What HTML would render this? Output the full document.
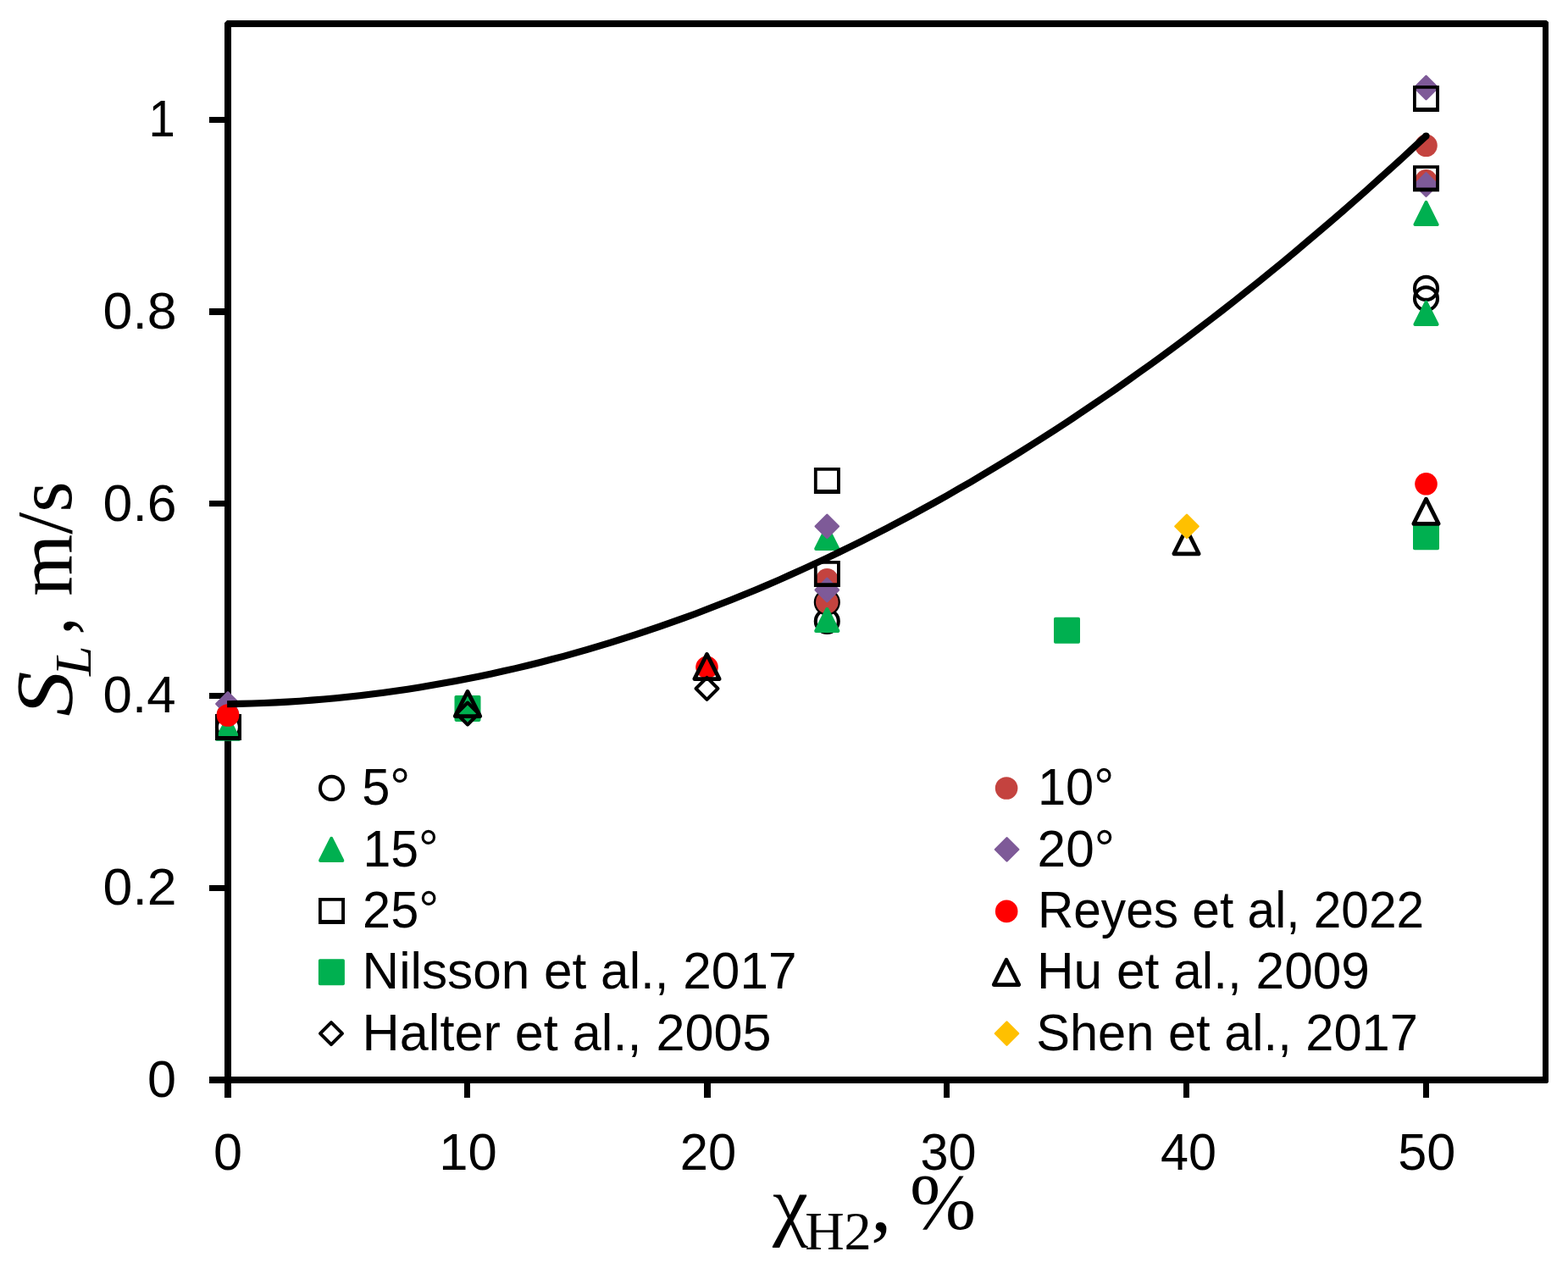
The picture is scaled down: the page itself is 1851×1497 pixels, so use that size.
<!DOCTYPE html>
<html lang="en">
<head>
<meta charset="utf-8">
<title>Laminar flame speed vs hydrogen fraction</title>
<style>
html,body{margin:0;padding:0;background:#fff;}
body{width:1851px;height:1497px;overflow:hidden;}
svg{display:block;}
.lab{font-family:"Liberation Sans",sans-serif;font-size:61.2px;fill:#000;}
.ttl{font-family:"Liberation Serif",serif;font-size:98px;fill:#000;}
</style>
</head>
<body>
<svg width="1851" height="1497" viewBox="0 0 1851 1497" role="img" aria-label="Laminar flame speed versus hydrogen fraction">
<rect x="0" y="0" width="1851" height="1497" fill="#fff"/>
<g id="frame" fill="#000">
<path fill-rule="evenodd" d="M268 24H1825.5L1828 26V1277.5L1826.5 1279H265V27ZM273 32V1271H1821V32Z"/>
<rect x="265" y="1279" width="8" height="17"/>
<rect x="247" y="1271" width="18" height="8"/>
</g>
<g id="ticks" fill="#000">
<rect x="247" y="138" width="19" height="7"/>
<rect x="247" y="364" width="19" height="8"/>
<rect x="247" y="591" width="19" height="7"/>
<rect x="247" y="818" width="19" height="7"/>
<rect x="247" y="1045" width="19" height="7"/>
<rect x="548" y="1278" width="7" height="18"/>
<rect x="831" y="1278" width="8" height="18"/>
<rect x="1114" y="1278" width="7" height="18"/>
<rect x="1397" y="1278" width="7" height="18"/>
<rect x="1680" y="1278" width="7" height="18"/>
</g>
<g id="ylabels" class="lab">
<text x="174.0" y="1295.0" textLength="34.0" lengthAdjust="spacingAndGlyphs">0</text>
<text x="121.6" y="1068.2" textLength="87.0" lengthAdjust="spacingAndGlyphs">0.2</text>
<text x="121.6" y="841.4" textLength="85.9" lengthAdjust="spacingAndGlyphs">0.4</text>
<text x="121.6" y="614.6" textLength="87.0" lengthAdjust="spacingAndGlyphs">0.6</text>
<text x="121.6" y="387.8" textLength="87.0" lengthAdjust="spacingAndGlyphs">0.8</text>
<text x="175.6" y="161.0" textLength="31.3" lengthAdjust="spacingAndGlyphs">1</text>
</g>
<g id="xlabels" class="lab">
<text x="252.0" y="1381.3" textLength="34.0" lengthAdjust="spacingAndGlyphs">0</text>
<text x="518.2" y="1381.3" textLength="68.5" lengthAdjust="spacingAndGlyphs">10</text>
<text x="802.8" y="1381.3" textLength="66.4" lengthAdjust="spacingAndGlyphs">20</text>
<text x="1086.5" y="1381.3" textLength="66.0" lengthAdjust="spacingAndGlyphs">30</text>
<text x="1370.0" y="1381.3" textLength="66.0" lengthAdjust="spacingAndGlyphs">40</text>
<text x="1650.2" y="1381.3" textLength="68.1" lengthAdjust="spacingAndGlyphs">50</text>
</g>
<g id="ytitle">
<text class="ttl" style="font-size:95.1px" font-style="italic" transform="translate(85.0 845.7) rotate(-90)" textLength="53.3" lengthAdjust="spacingAndGlyphs">S</text>
<text class="ttl" style="font-size:61.1px" font-style="italic" transform="translate(106.8 798.1) rotate(-90)" textLength="35.6" lengthAdjust="spacingAndGlyphs">L</text>
<text class="ttl" style="font-size:92.4px" transform="translate(85.2 749.4) rotate(-90)" textLength="21.0" lengthAdjust="spacingAndGlyphs">,</text>
<text class="ttl" style="font-size:93.0px" transform="translate(84.4 703.8) rotate(-90)" textLength="135.6" lengthAdjust="spacingAndGlyphs">m/s</text>
</g>
<g id="xtitle">
<text class="ttl" style="font-size:92.1px" x="912.1" y="1452.9" textLength="42.1" lengthAdjust="spacingAndGlyphs">χ</text>
<text class="ttl" style="font-size:64.3px" x="950.2" y="1475.1" textLength="78.6" lengthAdjust="spacingAndGlyphs">H2</text>
<text class="ttl" style="font-size:94.5px" x="1028.0" y="1453.0" textLength="24.6" lengthAdjust="spacingAndGlyphs">,</text>
<text class="ttl" style="font-size:92.6px" x="1074.1" y="1450.3" textLength="78.1" lengthAdjust="spacingAndGlyphs">%</text>
</g>
<g id="s5">
<circle cx="269.4" cy="858.4" r="13.5" fill="none" stroke="#000" stroke-width="4.1"/>
<circle cx="976.3" cy="711" r="13.5" fill="none" stroke="#000" stroke-width="4.1"/>
<circle cx="976.3" cy="733.4" r="13.5" fill="none" stroke="#000" stroke-width="4.1"/>
<circle cx="1683.5" cy="340.4" r="13.5" fill="none" stroke="#000" stroke-width="4.1"/>
<circle cx="1683.5" cy="352.6" r="13.5" fill="none" stroke="#000" stroke-width="4.1"/>
</g>
<g id="s10">
<circle cx="269" cy="843.5" r="13.3" fill="#c4433f"/>
<circle cx="976.3" cy="684.3" r="13.3" fill="#c4433f"/>
<circle cx="976.3" cy="711" r="13.3" fill="#c4433f"/>
<circle cx="1683.5" cy="171.8" r="13.3" fill="#c4433f"/>
<circle cx="1683.5" cy="213.3" r="13.3" fill="#c4433f"/>
</g>
<g id="s15">
<path d="M269 846.8L282.1 872.8L255.9 872.8Z" fill="#00b050" stroke="#00b050" stroke-width="4" stroke-linejoin="round"/>
<path d="M976.3 621.9L989.4 647.9L963.2 647.9Z" fill="#00b050" stroke="#00b050" stroke-width="4" stroke-linejoin="round"/>
<path d="M976.3 719L989.4 745L963.2 745Z" fill="#00b050" stroke="#00b050" stroke-width="4" stroke-linejoin="round"/>
<path d="M1683.5 238.9L1696.6 265.1L1670.4 265.1Z" fill="#00b050" stroke="#00b050" stroke-width="4" stroke-linejoin="round"/>
<path d="M1683.5 356.8L1696.6 382.9L1670.4 382.9Z" fill="#00b050" stroke="#00b050" stroke-width="4" stroke-linejoin="round"/>
</g>
<g id="s20">
<path d="M269 817.5L282.5 831L269 844.5L255.5 831Z" fill="#7e5a98" stroke="#7e5a98" stroke-width="2.6" stroke-linejoin="round"/>
<path d="M976.3 607.9L989.8 621.4L976.3 634.9L962.8 621.4Z" fill="#7e5a98" stroke="#7e5a98" stroke-width="2.6" stroke-linejoin="round"/>
<path d="M976.3 683L989.8 696.5L976.3 710L962.8 696.5Z" fill="#7e5a98" stroke="#7e5a98" stroke-width="2.6" stroke-linejoin="round"/>
<path d="M1683.5 90L1697 103.5L1683.5 117L1670 103.5Z" fill="#7e5a98" stroke="#7e5a98" stroke-width="2.6" stroke-linejoin="round"/>
<path d="M1683.5 204.5L1697 218L1683.5 231.5L1670 218Z" fill="#7e5a98" stroke="#7e5a98" stroke-width="2.6" stroke-linejoin="round"/>
</g>
<g id="s25">
<path fill-rule="evenodd" fill="#000" d="M254 842.9h31v31h-31zM257.8 846.6v22.4h23.3v-22.4z"/>
<path fill-rule="evenodd" fill="#000" d="M960.9 552h31v31h-31zM964.7 555.7v22.4h23.3v-22.4z"/>
<path fill-rule="evenodd" fill="#000" d="M960.9 662.1h31v31h-31zM964.7 665.8v22.4h23.3v-22.4z"/>
<path fill-rule="evenodd" fill="#000" d="M1668 101h31v31h-31zM1671.8 104.7v22.4h23.3v-22.4z"/>
<path fill-rule="evenodd" fill="#000" d="M1668 195.3h31v31h-31zM1671.8 199v22.4h23.3v-22.4z"/>
</g>
<g id="reyes">
<circle cx="269" cy="844.5" r="13.3" fill="#ff0000"/>
<circle cx="834.5" cy="787.8" r="13.3" fill="#ff0000"/>
<circle cx="1683.5" cy="571.3" r="13.3" fill="#ff0000"/>
</g>
<g id="nilsson">
<rect x="536.5" y="820.9" width="31" height="31" rx="1.8" fill="#00b050"/>
<rect x="1244" y="728.8" width="31" height="31" rx="1.8" fill="#00b050"/>
<rect x="1668" y="618.2" width="31" height="31" rx="1.8" fill="#00b050"/>
</g>
<g id="hu">
<path d="M552 816.4L566.8 845.6L537.2 845.6Z" fill="none" stroke="#000" stroke-width="4.7" stroke-linejoin="round"/>
<path d="M834.5 772.4L849.2 801.6L819.8 801.6Z" fill="none" stroke="#000" stroke-width="4.7" stroke-linejoin="round"/>
<path d="M1400.5 624.5L1415.2 653.8L1385.8 653.8Z" fill="none" stroke="#000" stroke-width="4.7" stroke-linejoin="round"/>
<path d="M1683.5 589.1L1698.2 618.4L1668.8 618.4Z" fill="none" stroke="#000" stroke-width="4.7" stroke-linejoin="round"/>
</g>
<g id="halter">
<path d="M552 829.5L565 842.5L552 855.5L539 842.5Z" fill="none" stroke="#000" stroke-width="4" stroke-linejoin="round"/>
<path d="M834.5 799.9L847.5 812.9L834.5 825.9L821.5 812.9Z" fill="none" stroke="#000" stroke-width="4" stroke-linejoin="round"/>
</g>
<g id="shen">
<path d="M1401 607.9L1414.5 621.4L1401 634.9L1387.5 621.4Z" fill="#ffc000" stroke="#ffc000" stroke-width="2.6" stroke-linejoin="round"/>
</g>
<g id="trend">
<path d="M268.1 831.2L283.1 830.9L297.3 830.5L311.4 830.0L325.6 829.4L339.7 828.6L353.9 827.7L368.0 826.6L382.2 825.5L396.3 824.2L410.4 822.8L424.6 821.2L438.7 819.5L452.9 817.7L467.0 815.7L481.2 813.7L495.3 811.5L509.5 809.1L523.6 806.6L537.8 804.0L551.9 801.3L566.0 798.5L580.2 795.5L594.3 792.3L608.5 789.1L622.6 785.7L636.8 782.2L650.9 778.5L665.1 774.8L679.2 770.9L693.3 766.8L707.5 762.7L721.6 758.4L735.8 753.9L749.9 749.4L764.1 744.7L778.2 739.9L792.4 734.9L806.5 729.9L820.7 724.7L834.8 719.3L848.9 713.8L863.1 708.2L877.2 702.5L891.4 696.7L905.5 690.7L919.7 684.6L933.8 678.3L948.0 671.9L962.1 665.4L976.2 658.8L990.4 652.0L1004.5 645.1L1018.7 638.1L1032.8 630.9L1047.0 623.6L1061.1 616.2L1075.3 608.6L1089.4 600.9L1103.6 593.1L1117.7 585.2L1131.8 577.1L1146.0 568.9L1160.1 560.6L1174.3 552.1L1188.4 543.5L1202.6 534.8L1216.7 525.9L1230.9 516.9L1245.0 507.8L1259.2 498.6L1273.3 489.2L1287.4 479.7L1301.6 470.0L1315.7 460.3L1329.9 450.4L1344.0 440.3L1358.2 430.2L1372.3 419.9L1386.5 409.5L1400.6 398.9L1414.7 388.2L1428.9 377.4L1443.0 366.5L1457.2 355.4L1471.3 344.2L1485.5 332.8L1499.6 321.4L1513.8 309.8L1527.9 298.1L1542.0 286.2L1556.2 274.2L1570.3 262.1L1584.5 249.9L1598.6 237.5L1612.8 225.0L1626.9 212.3L1641.1 199.6L1655.2 186.7L1669.4 173.6L1683.5 160.5" fill="none" stroke="#000" stroke-width="8.1" stroke-linecap="butt" stroke-linejoin="round"/>
<circle cx="1683.5" cy="160.5" r="4.05" fill="#000"/>
</g>
<g id="legend">
<circle cx="391.5" cy="930.4" r="13.5" fill="none" stroke="#000" stroke-width="4.1"/>
<path d="M391.2 989.9L404.3 1016L378.1 1016Z" fill="#00b050" stroke="#00b050" stroke-width="4" stroke-linejoin="round"/>
<path fill-rule="evenodd" fill="#000" d="M376 1060h31v31h-31zM379.8 1063.7v22.4h23.3v-22.4z"/>
<rect x="375.9" y="1132.2" width="31" height="31" rx="1.8" fill="#00b050"/>
<path d="M391 1207.1L404 1220.1L391 1233.1L378 1220.1Z" fill="none" stroke="#000" stroke-width="4" stroke-linejoin="round"/>
<circle cx="1188.1" cy="930.5" r="13.3" fill="#c4433f"/>
<path d="M1188.6 989.4L1202.1 1002.9L1188.6 1016.4L1175.1 1002.9Z" fill="#7e5a98" stroke="#7e5a98" stroke-width="2.6" stroke-linejoin="round"/>
<circle cx="1188.2" cy="1075.9" r="13.3" fill="#ff0000"/>
<path d="M1188 1133.2L1202.8 1162.6L1173.2 1162.6Z" fill="none" stroke="#000" stroke-width="4.7" stroke-linejoin="round"/>
<path d="M1188.5 1206.6L1202 1220.1L1188.5 1233.6L1175 1220.1Z" fill="#ffc000" stroke="#ffc000" stroke-width="2.6" stroke-linejoin="round"/>
<g class="lab">
<text x="427.2" y="950.0" textLength="57.0" lengthAdjust="spacingAndGlyphs">5°</text>
<text x="428.4" y="1022.5" textLength="89.3" lengthAdjust="spacingAndGlyphs">15°</text>
<text x="428.1" y="1094.9" textLength="90.0" lengthAdjust="spacingAndGlyphs">25°</text>
<text x="427.6" y="1167.4" textLength="512.9" lengthAdjust="spacingAndGlyphs">Nilsson et al., 2017</text>
<text x="427.6" y="1239.9" textLength="483.0" lengthAdjust="spacingAndGlyphs">Halter et al., 2005</text>
<text x="1224.9" y="950.0" textLength="90.3" lengthAdjust="spacingAndGlyphs">10°</text>
<text x="1224.6" y="1022.5" textLength="91.3" lengthAdjust="spacingAndGlyphs">20°</text>
<text x="1224.9" y="1094.9" textLength="456.3" lengthAdjust="spacingAndGlyphs">Reyes et al, 2022</text>
<text x="1223.9" y="1167.4" textLength="393.1" lengthAdjust="spacingAndGlyphs">Hu et al., 2009</text>
<text x="1223.2" y="1239.9" textLength="450.7" lengthAdjust="spacingAndGlyphs">Shen et al., 2017</text>
</g>
</g>
</svg>
</body>
</html>
